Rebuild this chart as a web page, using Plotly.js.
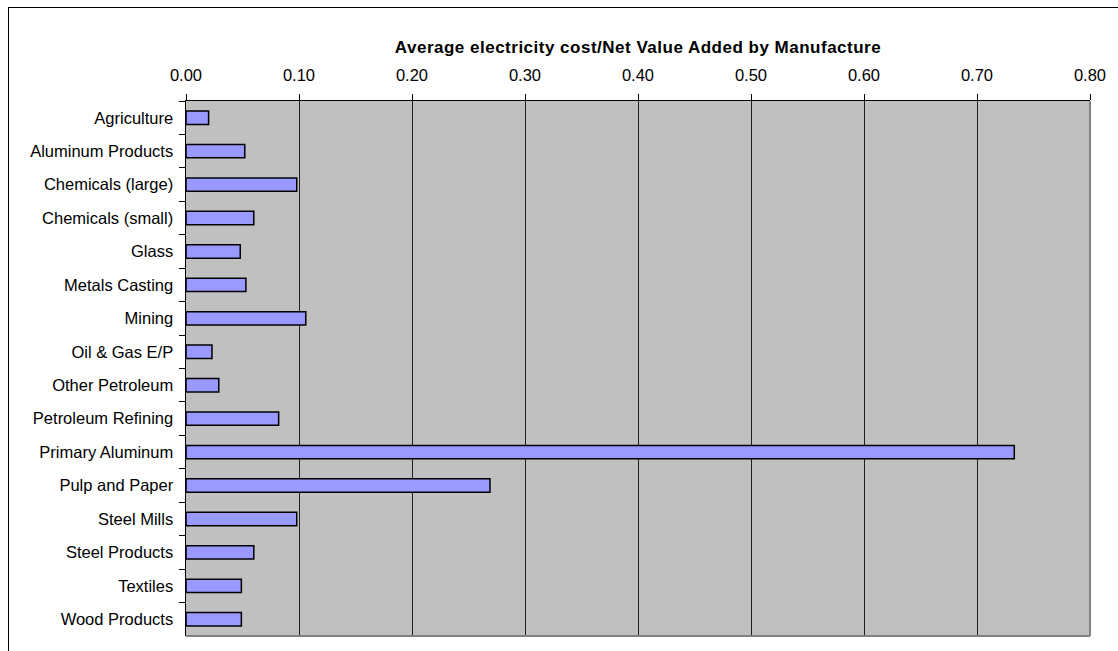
<!DOCTYPE html>
<html>
<head>
<meta charset="utf-8">
<script src="https://cdn.plot.ly/plotly-3.0.1.min.js"></script>
<style>
  html, body { margin: 0; padding: 0; background: #ffffff; }
  #frame { position: absolute; left: 8px; top: 7px; width: 1130px; height: 660px; border: 1.5px solid #000; box-sizing: border-box; }
  #chart { position: absolute; left: 0; top: 0; width: 1118px; height: 651px; }
  #chart .gtitle { letter-spacing: 0.5px; }
</style>
</head>
<body>
<div id="frame"></div>
<div id="chart"></div>
<script>
const categories = [
  "Agriculture", "Aluminum Products", "Chemicals (large)", "Chemicals (small)",
  "Glass", "Metals Casting", "Mining", "Oil & Gas E/P", "Other Petroleum",
  "Petroleum Refining", "Primary Aluminum", "Pulp and Paper", "Steel Mills",
  "Steel Products", "Textiles", "Wood Products"
];
const values = [
  0.020, 0.052, 0.098, 0.060,
  0.048, 0.053, 0.106, 0.023, 0.029,
  0.082, 0.733, 0.269, 0.098,
  0.060, 0.049, 0.049
];
const xTicks = [0, 0.1, 0.2, 0.3, 0.4, 0.5, 0.6, 0.7, 0.8];
const chartTitle = "Average electricity cost/Net Value Added by Manufacture";

const font = { family: "Liberation Sans, Arial, sans-serif", size: 16.5, color: "#000" };

const trace = {
  type: "bar",
  orientation: "h",
  y: categories,
  x: values,
  marker: { color: "#9999FF", line: { color: "#000", width: 1.5 } },
  hoverinfo: "x+y"
};

const layout = {
  width: 1118,
  height: 651,
  margin: { l: 186, r: 28, t: 101, b: 15 },
  paper_bgcolor: "rgba(0,0,0,0)",
  plot_bgcolor: "#C0C0C0",
  bargap: 0.6,
  showlegend: false,
  font: font,
  title: {
    text: "<b>" + chartTitle + "</b>",
    font: { family: font.family, size: 17, color: "#000" },
    x: 0.5, xref: "paper", xanchor: "center",
    y: 1 - 47 / 651, yref: "container", yanchor: "middle"
  },
  xaxis: {
    side: "top",
    range: [0, 0.8],
    tickvals: xTicks,
    tickformat: ".2f",
    ticks: "outside",
    ticklen: 6,
    tickcolor: "#000",
    tickwidth: 1,
    ticklabelstandoff: 6,
    showgrid: true,
    gridcolor: "#202020",
    gridwidth: 1,
    showline: true,
    linecolor: "#000",
    linewidth: 1.5,
    zeroline: false,
    tickfont: font,
    fixedrange: true
  },
  yaxis: {
    type: "category",
    autorange: "reversed",
    ticks: "outside",
    tickson: "boundaries",
    ticklen: 6,
    tickcolor: "#000",
    showgrid: false,
    showline: true,
    linecolor: "#000",
    linewidth: 1.5,
    ticklabelstandoff: 8,
    tickfont: font,
    fixedrange: true
  },
  shapes: [
    { type: "line", xref: "paper", yref: "paper", x0: 1, x1: 1, y0: 0, y1: 1, line: { color: "#808080", width: 2 } },
    { type: "line", xref: "paper", yref: "paper", x0: 0, x1: 1, y0: 0, y1: 0, line: { color: "#808080", width: 2 } }
  ]
};

Plotly.newPlot("chart", [trace], layout, { displayModeBar: false, staticPlot: true });
</script>
</body>
</html>
